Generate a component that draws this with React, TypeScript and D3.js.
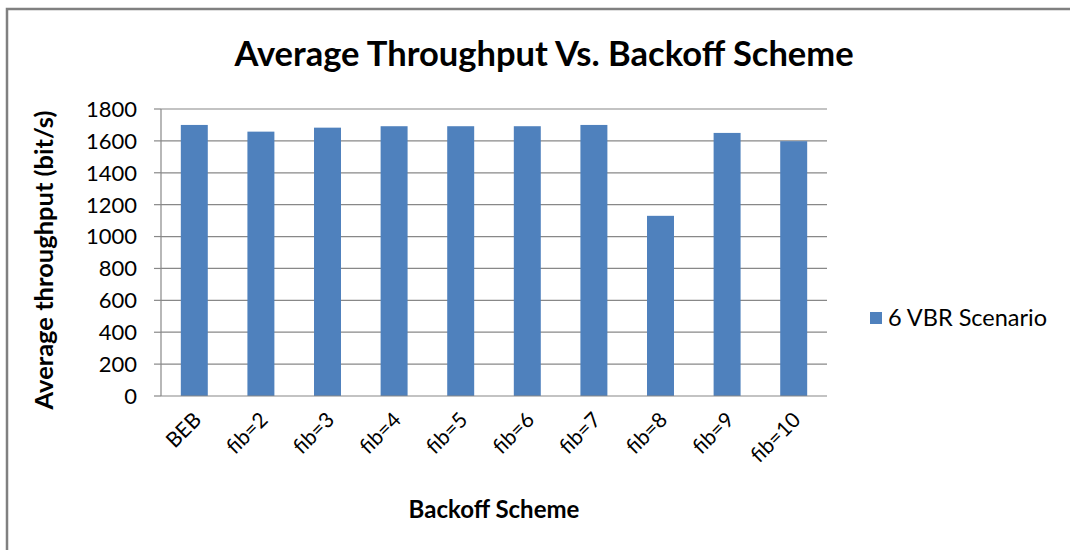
import * as d3 from 'd3';

const categories = ['BEB', 'fib=2', 'fib=3', 'fib=4', 'fib=5', 'fib=6', 'fib=7', 'fib=8', 'fib=9', 'fib=10'];
const throughput = [1700, 1658, 1683, 1692, 1692, 1692, 1700, 1130, 1650, 1598];
const yTicks = [0, 200, 400, 600, 800, 1000, 1200, 1400, 1600, 1800];
const seriesName = '6 VBR Scenario';
const title = 'Average Throughput Vs. Backoff Scheme';
const xTitle = 'Backoff Scheme';
const yTitle = 'Average throughput (bit/s)';

const W = 1070;
const H = 550;
const plot = { left: 161, right: 827, top: 109, bottom: 396 };
const font = 'Lato, "Open Sans", sans-serif';
const barColor = '#4F81BD';
const gridColor = '#888888';

export default function App() {
  const x = d3.scaleBand<string>().domain(categories).range([plot.left, plot.right]);
  const y = d3.scaleLinear().domain([0, 1800]).range([plot.bottom, plot.top]);
  const bw = x.bandwidth() * 0.405;

  return (
    <svg width={W} height={H} style={{ position: 'absolute', left: 0, top: 0, background: '#fff' }}>
      <rect x={7} y={9} width={W + 20} height={H + 20} fill="#fff" stroke="#808080" strokeWidth={2.5} />

      <text x={544} y={66} textAnchor="middle" fontFamily={font} fontWeight="bold" fontSize={34.5} fill="#000">
        {title}
      </text>

      {yTicks.map(t => (
        <g key={t}>
          {t > 0 && (
            <line x1={plot.left} x2={plot.right} y1={y(t)} y2={y(t)} stroke={gridColor} strokeWidth={1.2} />
          )}
          <line x1={plot.left - 7} x2={plot.left} y1={y(t)} y2={y(t)} stroke={gridColor} strokeWidth={1.2} />
          <text x={137} y={y(t)} dy="0.36em" textAnchor="end" fontFamily={font} fontSize={22} fill="#000">
            {t}
          </text>
        </g>
      ))}

      {categories.map((c, i) => (
        <rect
          key={c}
          x={(x(c) as number) + (x.bandwidth() - bw) / 2}
          y={y(throughput[i])}
          width={bw}
          height={y(0) - y(throughput[i])}
          fill={barColor}
        />
      ))}

      <line x1={plot.left} x2={plot.left} y1={plot.top} y2={plot.bottom} stroke={gridColor} strokeWidth={1.2} />
      <line x1={plot.left} x2={plot.right} y1={plot.bottom} y2={plot.bottom} stroke={gridColor} strokeWidth={1.2} />

      {categories.map(c => {
        const cx = (x(c) as number) + x.bandwidth() / 2 + 3;
        const cy = plot.bottom + 20;
        return (
          <text
            key={c}
            transform={`translate(${cx},${cy}) rotate(-45)`}
            textAnchor="end"
            dy="0.35em"
            fontFamily={font}
            fontSize={21}
            fill="#000"
          >
            {c}
          </text>
        );
      })}

      <text x={494} y={518} textAnchor="middle" fontFamily={font} fontWeight="bold" fontSize={24} fill="#000">
        {xTitle}
      </text>
      <text
        transform={`translate(53,260) rotate(-90)`}
        textAnchor="middle"
        fontFamily={font}
        fontWeight="bold"
        fontSize={25.5}
        fill="#000"
      >
        {yTitle}
      </text>

      <rect x={870} y={312} width={12} height={12} fill={barColor} />
      <text x={888} y={318} dy="0.36em" fontFamily={font} fontSize={23.5} fill="#000">
        {seriesName}
      </text>
    </svg>
  );
}
